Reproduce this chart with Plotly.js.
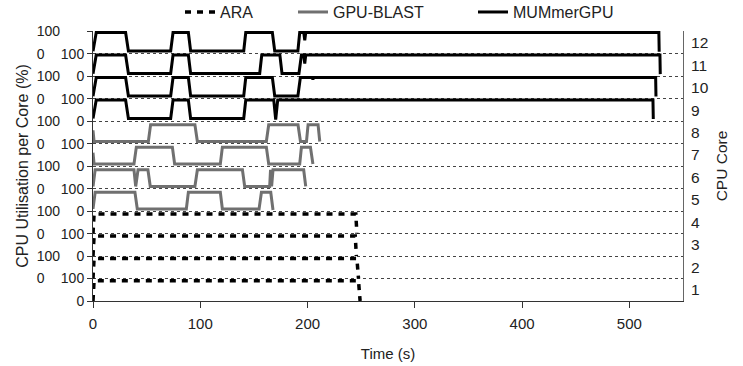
<!DOCTYPE html>
<html>
<head>
<meta charset="utf-8">
<script src="https://cdn.plot.ly/plotly-3.0.1.min.js"></script>
<style>html,body{margin:0;padding:0;background:#fff}#chart{width:743px;height:366px}</style>
</head>
<body>
<div id="chart"></div>
<script>
// ---- Data (time in s, utilisation in % per core) ----
const seriesNames = ["ARA", "GPU-BLAST", "MUMmerGPU"];
const coreLabels = ["1","2","3","4","5","6","7","8","9","10","11","12"];
const xTickVals = [0, 100, 200, 300, 400, 500];

// ARA: cores 1-4
const araCore1T = [0, 1, 247.5, 249];
const araCore1V = [0, 90, 90, 0];
const araCore2T = [0, 1, 246, 247.5];
const araCore2V = [0, 89, 89, 0];
const araCore3T = [0, 1, 244.5, 245.5];
const araCore3V = [0, 89, 89, 0];
const araCore4T = [0, 1, 245, 246];
const araCore4V = [0, 87, 87, 0];

// GPU-BLAST: cores 5-8
const gbCore5T = [0, 2, 39.1, 41.3, 87, 88.9, 118.7, 120.6, 154.8, 157, 165.7, 167.8];
const gbCore5V = [10, 84, 84, 10, 10, 84, 84, 10, 10, 84, 84, 5];
const gbCore6T = [0, 2, 38.2, 39.8, 42, 51.2, 53.4, 95, 97.3, 139.3, 141.4, 164.7, 165.5, 166.5, 167.8, 196.4, 198.3];
const gbCore6V = [10, 84, 84, 10, 84, 84, 10, 10, 84, 84, 10, 10, 84, 10, 84, 84, 10];
const gbCore7T = [0, 1, 38.2, 40.4, 74, 76.1, 118.7, 120.6, 161.6, 163.8, 192.7, 194.3, 202.7, 205];
const gbCore7V = [60, 10, 10, 85, 85, 10, 10, 85, 85, 10, 10, 85, 85, 10];
const gbCore8T = [0, 1, 51.6, 53.7, 95, 97.3, 161.6, 163.8, 191.1, 193.4, 199, 200.5, 209.8, 211.4];
const gbCore8V = [60, 10, 10, 85, 85, 10, 10, 85, 85, 10, 10, 85, 85, 10];

// MUMmerGPU: cores 9-12
const mgCore9T = [0, 3, 30.4, 33, 72.4, 74.6, 88.9, 91, 140.5, 142.4, 168.5, 170.3, 172.2, 522, 522.3];
const mgCore9V = [12, 95, 95, 13, 13, 95, 95, 13, 13, 95, 95, 8, 95, 95, 10];
const mgCore10T = [0, 3, 30.4, 33, 72.4, 74.6, 88.9, 91, 140.5, 142.4, 167.2, 169.4, 191, 193.3, 204.5, 205, 205.5, 524.5, 524.8];
const mgCore10V = [12, 95, 95, 13, 13, 95, 95, 13, 13, 95, 95, 13, 13, 95, 95, 85, 95, 95, 10];
const mgCore11T = [0, 3, 30.4, 33, 72.4, 74.6, 88.9, 91, 155.4, 157.3, 174.2, 176.2, 192, 194.3, 196.5, 197.4, 198.3, 528.5, 528.8];
const mgCore11V = [12, 95, 95, 13, 13, 95, 95, 13, 13, 95, 95, 13, 13, 95, 95, 57, 95, 95, 10];
const mgCore12T = [0, 3, 30.4, 33, 72.4, 74.6, 88.9, 91, 140.5, 142.4, 167.2, 169.4, 191, 192.7, 196.5, 197.4, 198.3, 527.5, 527.8];
const mgCore12V = [12, 95, 95, 13, 13, 95, 95, 13, 13, 95, 95, 13, 13, 95, 95, 60, 95, 95, 10];

// ---- Build traces ----
const coreData = [
  {core: 1, s: 0, t: araCore1T, v: araCore1V},
  {core: 2, s: 0, t: araCore2T, v: araCore2V},
  {core: 3, s: 0, t: araCore3T, v: araCore3V},
  {core: 4, s: 0, t: araCore4T, v: araCore4V},
  {core: 5, s: 1, t: gbCore5T, v: gbCore5V},
  {core: 6, s: 1, t: gbCore6T, v: gbCore6V},
  {core: 7, s: 1, t: gbCore7T, v: gbCore7V},
  {core: 8, s: 1, t: gbCore8T, v: gbCore8V},
  {core: 9, s: 2, t: mgCore9T, v: mgCore9V},
  {core: 10, s: 2, t: mgCore10T, v: mgCore10V},
  {core: 11, s: 2, t: mgCore11T, v: mgCore11V},
  {core: 12, s: 2, t: mgCore12T, v: mgCore12V}
];
const styles = [
  {color: "#000000", width: 3.5, dash: "6px,6px"},
  {color: "#707070", width: 3, dash: "solid"},
  {color: "#000000", width: 3, dash: "solid"}
];
const legendIds = ["legend", "legend2", "legend3"];
const shown = {};
const traces = coreData.map(d => {
  const first = !shown[d.s];
  shown[d.s] = true;
  return {
    type: "scatter", mode: "lines",
    x: d.t, y: d.v.map(u => (d.core - 1) * 100 + u),
    name: seriesNames[d.s], legendgroup: seriesNames[d.s], showlegend: first,
    legend: legendIds[d.s],
    line: styles[d.s], xaxis: "x", yaxis: "y", hoverinfo: "skip"
  };
});
// invisible traces to activate the extra y axes
traces.push({type: "scatter", mode: "lines", x: [0], y: [0], yaxis: "y2", showlegend: false, line: {width: 0}, hoverinfo: "skip"});
traces.push({type: "scatter", mode: "lines", x: [0], y: [0], yaxis: "y3", showlegend: false, line: {width: 0}, hoverinfo: "skip"});

// Left tick labels in two alternating columns (outer column left-aligned via padding)
const PAD = "\u00a0\u00a0\u00a0\u00a0";
const innerVals = [], innerText = [], outerVals = [], outerText = [];
for (let k = 0; k <= 12; k++) {
  innerVals.push(k * 100);
  innerText.push(k === 12 ? "" : (k % 2 === 0 ? "0" : "100"));
  if (k >= 1) { outerVals.push(k * 100); outerText.push(k % 2 === 1 ? "0" + PAD : "100"); }
}
const coreCenters = coreLabels.map((c, i) => i * 100 + 50);
const yRange = [0, 1202];

const FONT = "Liberation Sans, Arial, sans-serif";
function legendAt(xc) {
  return {orientation: "h", x: xc, xanchor: "left", xref: "container",
          y: 0.967, yanchor: "middle", yref: "container",
          font: {size: 16, family: FONT, color: "#222"}, bgcolor: "rgba(0,0,0,0)"};
}
const layout = {
  width: 743, height: 366,
  margin: {l: 93, r: 60, t: 31, b: 65},
  paper_bgcolor: "#fff", plot_bgcolor: "#fff",
  font: {family: FONT, color: "#222", size: 14},
  showlegend: true,
  legend: legendAt(180 / 743),
  legend2: legendAt(293 / 743),
  legend3: legendAt(473 / 743),
  xaxis: {range: [0, 550], tickvals: xTickVals, ticks: "outside", ticklen: 6, tickcolor: "#333",
          showgrid: false, zeroline: false, showline: true, linecolor: "#333", linewidth: 1,
          ticklabelstandoff: 3,
          tickfont: {size: 15}, title: {text: "Time (s)", font: {size: 15}, standoff: 17}},
  yaxis: {range: yRange, tickvals: innerVals, ticktext: innerText, ticks: "outside", ticklen: 5,
          tickcolor: "#333", showgrid: true, gridcolor: "#444", griddash: "dot", gridwidth: 1,
          zeroline: false, showline: true, linecolor: "#333", linewidth: 1,
          tickfont: {size: 14}},
  yaxis2: {overlaying: "y", side: "left", anchor: "x", range: yRange, tickvals: outerVals, ticktext: outerText,
           ticks: "", showgrid: false, zeroline: false, showline: false, ticklabelstandoff: 32,
           tickfont: {size: 14},
           title: {text: "CPU Utilisation per Core (%)", font: {size: 16}, standoff: 4}},
  yaxis3: {overlaying: "y", side: "right", anchor: "x", range: yRange, tickvals: coreCenters, ticktext: coreLabels,
           ticks: "", showgrid: false, zeroline: false, showline: true, linecolor: "#666", linewidth: 1,
           ticklabelstandoff: 4, tickfont: {size: 15.5},
           title: {text: "CPU Core", font: {size: 15.5}, standoff: 8}}
};
Plotly.newPlot("chart", traces, layout, {staticPlot: true, displayModeBar: false});
</script>
</body>
</html>
